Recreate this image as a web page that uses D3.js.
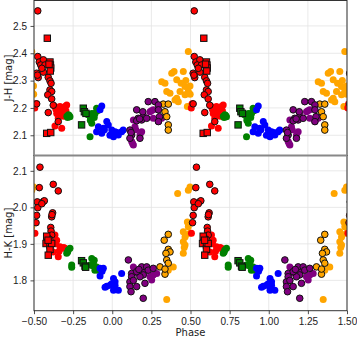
<!DOCTYPE html>
<html>
<head>
<meta charset="utf-8">
<script src="https://cdn.jsdelivr.net/npm/d3@7"></script>
<style>
  body { margin: 0; background: #fff; }
  svg { display: block; font-family: 'DejaVu Sans', sans-serif; }
</style>
</head>
<body>
<div class="svg-container"></div>
<script>
// phase values in [-0.5, 0.5), each drawn at phase-1, phase, phase+1, phase+2
const redEdgeTop = [[-0.476,2.555],[-0.476,2.388],[-0.466,2.368],[-0.44,2.376],[-0.457,2.357],[-0.43,2.357],[-0.44,2.331],[-0.483,2.327],[-0.473,2.311],[-0.409,2.312],[-0.398,2.299],[-0.391,2.29],[-0.398,2.266],[-0.387,2.26],[-0.412,2.248],[-0.387,2.233],[-0.377,2.21],[-0.409,2.183],[-0.345,2.15],[-0.483,2.215],[-0.478,2.32],[-0.45,2.345]];
const redSqTop = [[-0.415,2.455],[-0.419,2.107],[-0.393,2.11],[-0.398,2.368],[-0.395,2.357],[-0.393,2.346],[-0.396,2.335],[-0.404,2.36]];
const redTop = [[-0.366,2.205],[-0.334,2.205],[-0.302,2.205],[-0.355,2.18],[-0.323,2.174],[-0.345,2.162],[-0.366,2.134],[-0.323,2.126],[-0.313,2.193],[-0.291,2.211],[-0.34,2.19],[-0.31,2.17],[-0.495,2.2],[-0.49,2.215],[-0.36,2.195],[-0.296,2.19]];
const greenTop = [[-0.29,2.17],[-0.28,2.175],[-0.27,2.168],[-0.285,2.165],[-0.275,2.172],[-0.155,2.175],[-0.142,2.17],[-0.13,2.18],[-0.12,2.178],[-0.11,2.18],[-0.1,2.199],[-0.095,2.19],[-0.142,2.095],[-0.131,2.144],[-0.14,2.155],[-0.115,2.165]];
const greenSqTop = [[-0.185,2.199],[-0.178,2.186],[-0.168,2.18],[-0.196,2.138]];
const blueTop = [[-0.067,2.207],[-0.078,2.193],[-0.035,2.15],[-0.025,2.138],[-0.089,2.131],[-0.1,2.113],[-0.067,2.107],[-0.057,2.126],[-0.003,2.119],[0.018,2.113],[0.008,2.095],[0.039,2.101],[0.06,2.113],[0.07,2.119],[-0.05,2.12],[-0.015,2.1],[0.03,2.11]];
const purpleTop = [[0.135,2.156],[0.145,2.131],[0.188,2.113],[0.177,2.101],[0.135,2.064],[0.124,2.077],[0.198,2.174],[0.241,2.186],[0.262,2.193],[0.316,2.162],[0.295,2.15],[0.262,2.162],[0.13,2.07],[0.15,2.12],[0.25,2.19]];
const purpleEdgeTop = [[0.113,2.119],[0.124,2.101],[0.113,2.089],[0.177,2.089],[0.156,2.193],[0.166,2.162],[0.188,2.156],[0.22,2.162],[0.195,2.186],[0.23,2.223],[0.273,2.223],[0.295,2.211],[0.295,2.193],[0.302,2.168],[0.295,2.15],[0.156,2.153],[0.12,2.11],[0.175,2.16]];
const orangeEdgeTop = [[0.326,2.214],[0.358,2.214],[0.337,2.186],[0.348,2.168],[0.358,2.138],[0.358,2.119]];
const orangeTop = [[0.316,2.296],[0.337,2.29],[0.348,2.26],[0.38,2.327],[0.412,2.303],[0.486,2.406],[0.454,2.333],[0.465,2.278],[0.433,2.26],[0.401,2.229],[0.422,2.223],[0.486,2.26],[0.465,2.248],[0.369,2.254],[0.48,2.205],[0.395,2.333],[0.412,2.235],[0.47,2.3],[0.44,2.29],[0.497,2.28],[0.498,2.25]];

const redEdgeBot = [[-0.462,2.11],[-0.466,2.054],[-0.377,2.063],[-0.345,2.045],[-0.479,2.015],[-0.44,2.016],[-0.434,2.018],[-0.476,1.999],[-0.483,1.978],[-0.487,1.958],[-0.381,1.985],[-0.387,1.974],[-0.393,1.945],[-0.391,1.935],[-0.387,1.924],[-0.412,1.917],[-0.398,1.912],[-0.45,2.01],[-0.385,1.98]];
const redSqBot = [[-0.419,1.921],[-0.423,1.901],[-0.398,1.897],[-0.398,1.885],[-0.409,1.869],[-0.387,1.901],[-0.41,1.91]];
const redBot = [[-0.494,1.929],[-0.366,1.924],[-0.355,1.91],[-0.334,1.892],[-0.323,1.888],[-0.345,1.865],[-0.377,1.878],[-0.302,1.888],[-0.36,1.9],[-0.34,1.88],[-0.31,1.89]];
const greenBot = [[-0.281,1.883],[-0.291,1.874],[-0.27,1.888],[-0.285,1.878],[-0.259,1.842],[-0.259,1.836],[-0.131,1.86],[-0.121,1.847],[-0.1,1.837],[-0.111,1.828],[-0.089,1.828],[-0.142,1.842],[-0.115,1.855],[-0.125,1.84]];
const greenSqBot = [[-0.196,1.854],[-0.185,1.848],[-0.174,1.839],[-0.17,1.836]];
const blueBot = [[-0.078,1.833],[-0.057,1.833],[-0.078,1.812],[0.008,1.805],[-0.035,1.784],[-0.046,1.781],[-0.014,1.787],[0.018,1.787],[0.008,1.773],[0.039,1.773],[0.06,1.819],[0.018,1.796],[-0.065,1.825],[-0.005,1.79]];
const purpleEdgeBot = [[0.103,1.856],[0.124,1.819],[0.124,1.81],[0.113,1.796],[0.113,1.783],[0.12,1.769],[0.156,1.783],[0.188,1.837],[0.22,1.837],[0.198,1.815],[0.177,1.81],[0.198,1.751],[0.209,1.792],[0.23,1.828],[0.262,1.833],[0.156,1.824],[0.135,1.8],[0.17,1.83]];
const purpleBot = [[0.135,1.837],[0.166,1.828],[0.22,1.828],[0.241,1.81],[0.262,1.815],[0.284,1.819],[0.252,1.801],[0.15,1.82],[0.2,1.82]];
const orangeEdgeBot = [[0.358,1.926],[0.332,1.91],[0.358,1.885],[0.369,1.878],[0.343,1.874],[0.348,1.856],[0.358,1.847],[0.305,1.837],[0.337,1.817],[0.337,1.831]];
const orangeBot = [[0.348,1.748],[0.39,1.837],[0.358,1.828],[0.34,1.83],[0.418,2.038],[0.497,2.056],[0.486,2.047],[0.454,1.933],[0.465,1.919],[0.454,1.906],[0.465,1.897],[0.454,1.874],[0.486,1.947],[0.497,1.929],[0.48,1.96],[0.47,1.925],[0.46,1.89]];

const xTicks = [-0.5, -0.25, 0, 0.25, 0.5, 0.75, 1, 1.25, 1.5];
const jhTicks = [2.1, 2.2, 2.3, 2.4, 2.5];
const hkTicks = [1.8, 1.9, 2.0, 2.1];

const width = 357, height = 338;
const left = 34, right = 347;

const svg = d3.select('.svg-container')
.append('svg')
.attr('width', width)
.attr('height', height);

const xScale = d3.scaleLinear().domain([-0.5, 1.5]).range([left, right]);

const panels = [
  {
    id: 'top', top: 0.5, bottom: 155.5, domain: [2.026, 2.593], ticks: jhTicks, label: 'J-H [mag]',
    plain: [[orangeTop, 'orange'], [redTop, 'red'], [greenTop, 'green'], [blueTop, 'blue'], [purpleTop, 'purple']],
    edge: [[orangeEdgeTop, 'orange'], [purpleEdgeTop, 'purple'], [redEdgeTop, 'red']],
    square: [[greenSqTop, 'green'], [redSqTop, 'red']]
  },
  {
    id: 'bot', top: 155.5, bottom: 310.7, domain: [1.717, 2.142], ticks: hkTicks, label: 'H-K [mag]',
    plain: [[orangeBot, 'orange'], [redBot, 'red'], [greenBot, 'green'], [blueBot, 'blue'], [purpleBot, 'purple']],
    edge: [[orangeEdgeBot, 'orange'], [purpleEdgeBot, 'purple'], [redEdgeBot, 'red']],
    square: [[greenSqBot, 'green'], [redSqBot, 'red']]
  }
];

// repeat every point over the whole phase window
const repeat = arr => {
  const out = [];
  [-1, 0, 1, 2].forEach(k => arr.forEach(d => {
    const p = d[0] + k;
    if (p > -0.56 && p < 1.56) out.push([p, d[1]]);
  }));
  return out;
};

panels.forEach(panel => {
  const yScale = d3.scaleLinear().domain(panel.domain).range([panel.bottom, panel.top]);

  svg.append('clipPath')
  .attr('id', `clip-${panel.id}`)
  .append('rect')
  .attr('x', left)
  .attr('y', panel.top)
  .attr('width', right - left)
  .attr('height', panel.bottom - panel.top);

  const grid = svg.append('g').attr('stroke', '#e3e3e3').attr('stroke-width', 0.8);
  grid.selectAll('.vx')
  .data(xTicks)
  .enter()
  .append('line')
  .attr('x1', d => xScale(d)).attr('x2', d => xScale(d))
  .attr('y1', panel.top).attr('y2', panel.bottom);
  grid.selectAll('.hy')
  .data(panel.ticks)
  .enter()
  .append('line')
  .attr('x1', left).attr('x2', right)
  .attr('y1', d => yScale(d)).attr('y2', d => yScale(d));

  const marks = svg.append('g').attr('clip-path', `url(#clip-${panel.id})`);

  panel.plain.forEach(([arr, color]) => {
    marks.append('g').selectAll('circle')
    .data(repeat(arr))
    .enter()
    .append('circle')
    .attr('cx', d => xScale(d[0]))
    .attr('cy', d => yScale(d[1]))
    .attr('r', 3.5)
    .attr('fill', color);
  });

  panel.edge.forEach(([arr, color]) => {
    marks.append('g').selectAll('circle')
    .data(repeat(arr))
    .enter()
    .append('circle')
    .attr('cx', d => xScale(d[0]))
    .attr('cy', d => yScale(d[1]))
    .attr('r', 3.3)
    .attr('fill', color)
    .attr('stroke', '#111')
    .attr('stroke-width', 1);
  });

  panel.square.forEach(([arr, color]) => {
    marks.append('g').selectAll('rect')
    .data(repeat(arr))
    .enter()
    .append('rect')
    .attr('x', d => xScale(d[0]) - 3.2)
    .attr('y', d => yScale(d[1]) - 3.2)
    .attr('width', 6.4)
    .attr('height', 6.4)
    .attr('fill', color)
    .attr('stroke', '#111')
    .attr('stroke-width', 1);
  });

  const yAxis = d3.axisLeft(yScale).tickValues(panel.ticks).tickFormat(d3.format('.1f')).tickSize(3.5).tickPadding(3.5);
  const ya = svg.append('g')
  .attr('transform', `translate(${left}, 0)`)
  .call(yAxis);
  ya.select('.domain').remove();
  ya.selectAll('text').style('font-size', '10px').attr('fill', '#222');
  ya.selectAll('line').attr('stroke', '#222').attr('stroke-width', 0.8);

  svg.append('text')
  .text(panel.label)
  .attr('transform', `translate(9, ${(panel.top + panel.bottom) / 2}) rotate(-90)`)
  .attr('text-anchor', 'middle')
  .attr('dominant-baseline', 'middle')
  .style('font-size', '10px')
  .attr('fill', '#222');

  // frame
  svg.append('rect')
  .attr('x', left)
  .attr('y', panel.top)
  .attr('width', right - left)
  .attr('height', panel.bottom - panel.top)
  .attr('fill', 'none')
  .attr('stroke', '#333')
  .attr('stroke-width', 1);
});

// separator between the panels
svg.append('line')
.attr('x1', left).attr('x2', right)
.attr('y1', 155.5).attr('y2', 155.5)
.attr('stroke', '#888')
.attr('stroke-width', 2);

const xAxis = d3.axisBottom(xScale).tickValues(xTicks).tickFormat(d => d3.format('.2f')(d).replace('-', '\u2212')).tickSize(3.5).tickPadding(3.5);
const xa = svg.append('g')
.attr('transform', `translate(0, 310.7)`)
.call(xAxis);
xa.select('.domain').remove();
xa.selectAll('text').style('font-size', '10px').attr('fill', '#222');
xa.selectAll('line').attr('stroke', '#222').attr('stroke-width', 0.8);

svg.append('text')
.text('Phase')
.attr('x', (left + right) / 2)
.attr('y', 336)
.attr('text-anchor', 'middle')
.style('font-size', '10px')
.attr('fill', '#222');
</script>
</body>
</html>
